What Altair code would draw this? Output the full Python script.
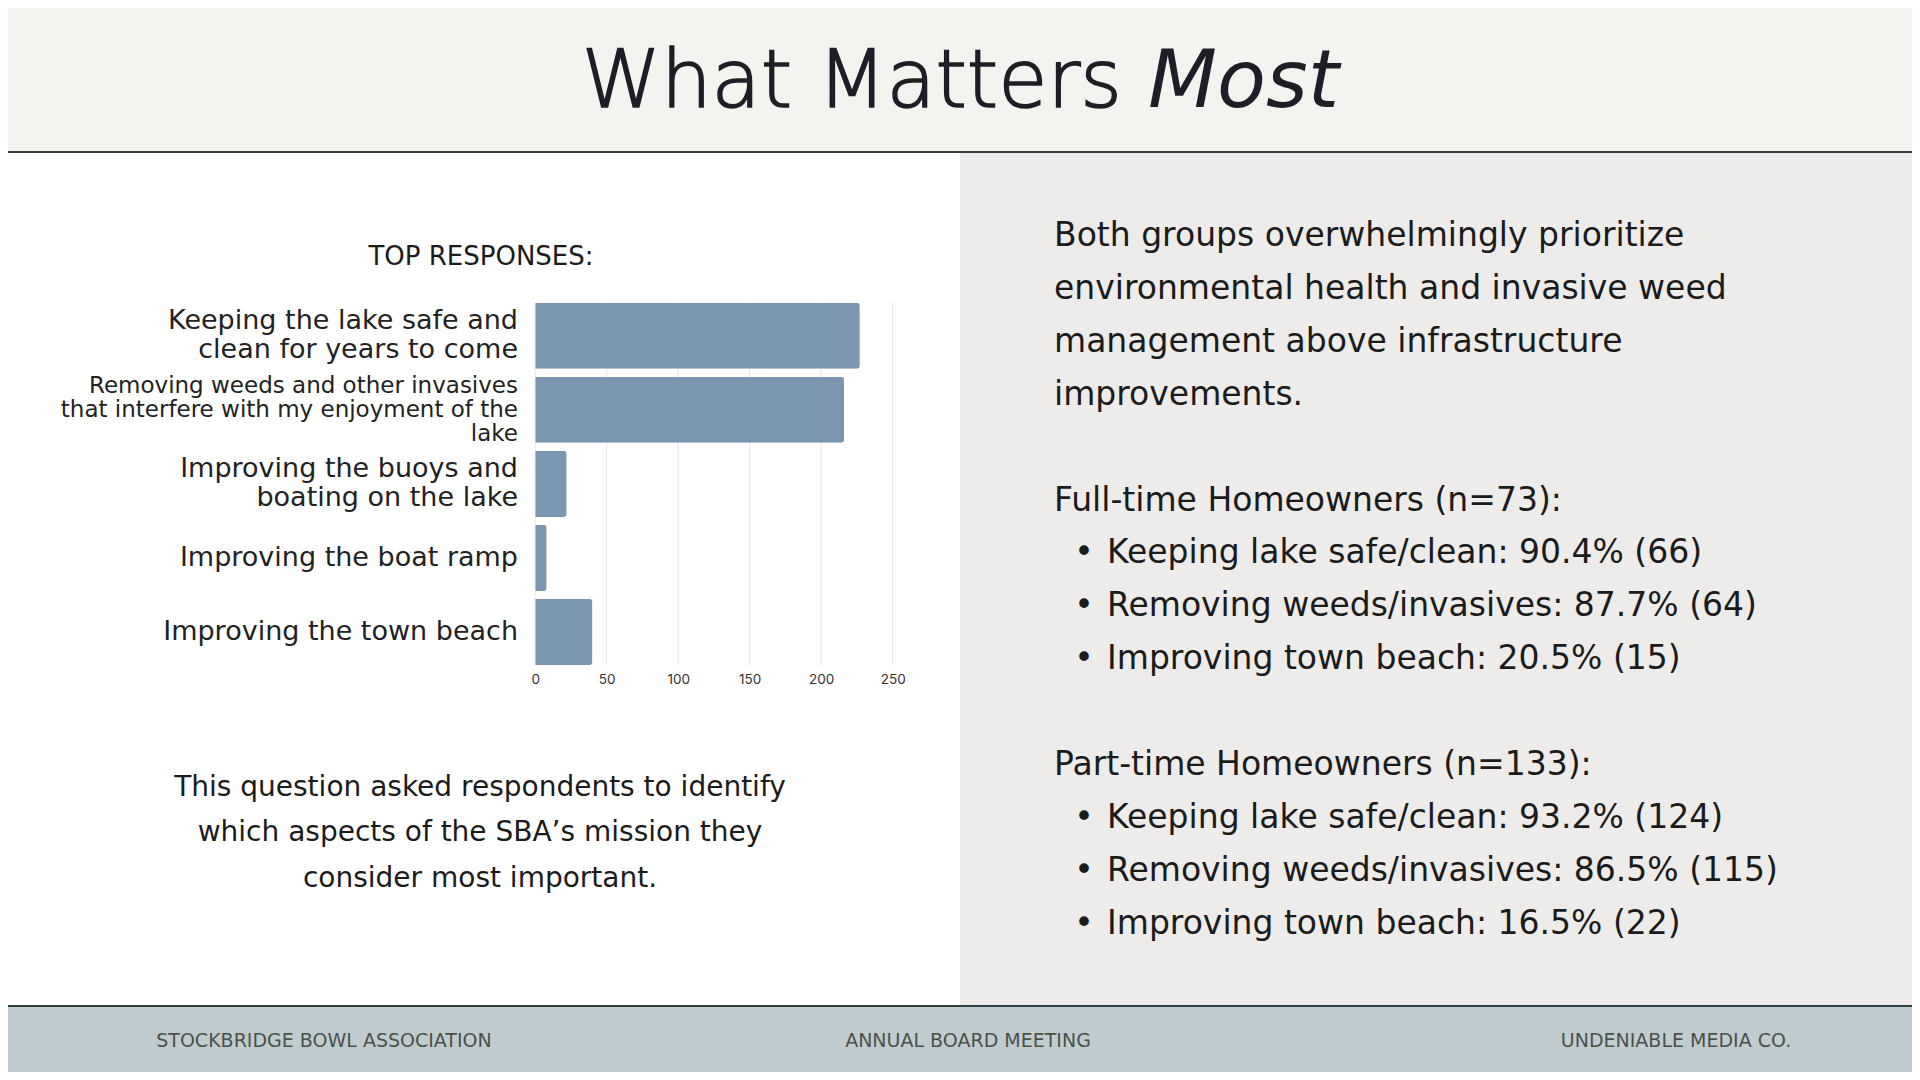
import altair as alt
import pandas as pd

# ---------------- data ----------------
categories = [
    "Keeping the lake safe and clean for years to come",
    "Removing weeds and other invasives that interfere with my enjoyment of the lake",
    "Improving the buoys and boating on the lake",
    "Improving the boat ramp",
    "Improving the town beach",
]
label_lines = [
    "Keeping the lake safe and\nclean for years to come",
    "Removing weeds and other invasives\nthat interfere with my enjoyment of the\nlake",
    "Improving the buoys and\nboating on the lake",
    "Improving the boat ramp",
    "Improving the town beach",
]
label_size = ["big", "small", "big", "big", "big"]
counts = [227, 216, 22, 8, 40]
x_ticks = [0, 50, 100, 150, 200, 250]

title_main = "What Matters"
title_italic = "Most"
chart_heading = "TOP RESPONSES:"
note_lines = [
    "This question asked respondents to identify",
    "which aspects of the SBA\u2019s mission they",
    "consider most important.",
]
summary_lines = [
    "Both groups overwhelmingly prioritize",
    "environmental health and invasive weed",
    "management above infrastructure",
    "improvements.",
]
full_time_header = "Full-time Homeowners (n=73):"
full_time_items = [
    "Keeping lake safe/clean: 90.4% (66)",
    "Removing weeds/invasives: 87.7% (64)",
    "Improving town beach: 20.5% (15)",
]
part_time_header = "Part-time Homeowners (n=133):"
part_time_items = [
    "Keeping lake safe/clean: 93.2% (124)",
    "Removing weeds/invasives: 86.5% (115)",
    "Improving town beach: 16.5% (22)",
]
footer_texts = ["STOCKBRIDGE BOWL ASSOCIATION", "ANNUAL BOARD MEETING", "UNDENIABLE MEDIA CO."]

# ---------------- layout helpers ----------------
W, H = 1904, 1064
OX, OY = 8, 8
FONT = "DejaVu Sans"
TEXT = "#1b1b1b"


def px(v):
    return v - OX


def py(v):
    return v - OY


one = pd.DataFrame({"k": [0]})


def rect(x1, y1, x2, y2, color):
    return alt.Chart(one).mark_rect(color=color).encode(
        x=alt.value(px(x1)), x2=alt.value(px(x2)),
        y=alt.value(py(y1)), y2=alt.value(py(y2)),
    )


def txt(text, x, y, size, align="left", color=TEXT, weight="normal", style="normal",
        font=FONT, stroke=None, stroke_width=0):
    kw = dict(align=align, baseline="alphabetic", fontSize=size, font=font,
              fontWeight=weight, fontStyle=style, color=color)
    if stroke is not None:
        kw.update(stroke=stroke, strokeWidth=stroke_width)
    return alt.Chart(pd.DataFrame({"t": [text]})).mark_text(**kw).encode(
        x=alt.value(px(x)), y=alt.value(py(y)), text="t:N")


# ---------------- bar chart ----------------
df = pd.DataFrame({
    "category": categories,
    "count": counts,
    "label_text": label_lines,
    "size": label_size,
    "nlines": [s.count("\n") + 1 for s in label_lines],
})
ticks_df = pd.DataFrame({"count": x_ticks})

x_scale = alt.Scale(domain=[0, 250], range=[px(535.2), px(892.7)], nice=False, zero=True)
y_scale = alt.Scale(range=[py(302.7), py(665)], paddingInner=0.108, paddingOuter=0)
x_axis = alt.Axis(values=x_ticks, grid=False, domain=False, ticks=False, title=None,
                  labelFont="Inter", labelFontSize=13.5, labelColor="#333333",
                  labelPadding=14, labelFlush=False, offset=658 - OY - H, format="d")

grid = alt.Chart(ticks_df).mark_rule(color="#e6e6e6", strokeWidth=1).encode(
    x=alt.X("count:Q", scale=x_scale, axis=x_axis),
    y=alt.value(py(302.7)), y2=alt.value(py(665)),
)

bars = alt.Chart(df).mark_bar(color="#7a96b0", cornerRadiusEnd=3).encode(
    x=alt.X("count:Q", scale=x_scale, axis=x_axis),
    y=alt.Y("category:N", sort=categories, scale=y_scale, axis=None),
)


def label_layer(size_key, n, font_size, line_height):
    return alt.Chart(df).transform_filter(
        (alt.datum.size == size_key) & (alt.datum.nlines == n)
    ).mark_text(
        align="right", baseline="middle", lineBreak="\n", font=FONT, fontSize=font_size,
        lineHeight=line_height, color="#222222", dy=-(n - 1) * line_height / 2,
    ).encode(
        x=alt.value(px(518)),
        y=alt.Y("category:N", sort=categories, scale=y_scale, axis=None),
        text="label_text:N",
    )


# ---------------- slide decoration ----------------
layers = [
    rect(0, 0, 1920, 152, "#f4f3f0"),
    rect(0, 151, 1920, 153, "#3c3c3c"),
    rect(960, 153, 1920, 1005, "#edecea"),
    rect(0, 1005, 1920, 1080, "#c1ccd1"),
    rect(0, 1005, 1920, 1007, "#2d3f3f"),
    rect(0, 1077, 1920, 1080, "#1f3434"),
    txt(title_main, 1122, 107, 80, align="right", color="#1e1e26", weight=300,
        stroke="#1e1e26", stroke_width=1.6),
    txt(title_italic, 1148, 107, 80, align="left", color="#1e1e26", style="italic"),
    txt(chart_heading, 481, 265, 26, align="center", color="#1b1b1b"),
    grid,
    bars,
    label_layer("big", 1, 27, 29),
    label_layer("big", 2, 27, 29),
    label_layer("small", 3, 23, 24),
]

for i, line in enumerate(note_lines):
    layers.append(txt(line, 480, 796 + 45.3 * i, 28, align="center"))

for i, line in enumerate(summary_lines):
    layers.append(txt(line, 1054, 245.7 + 53.1 * i, 33))

layers.append(txt(full_time_header, 1054, 510.7, 33))
for i, line in enumerate(full_time_items):
    yy = 563 + 53 * i
    layers.append(txt("\u2022", 1084, yy, 33, align="center"))
    layers.append(txt(line, 1107, yy, 33))

layers.append(txt(part_time_header, 1054, 775.2, 33))
for i, line in enumerate(part_time_items):
    yy = 828 + 53 * i
    layers.append(txt("\u2022", 1084, yy, 33, align="center"))
    layers.append(txt(line, 1107, yy, 33))

for t, cx in zip(footer_texts, [324, 968, 1676]):
    layers.append(txt(t, cx, 1047, 19, align="center", color="#4a5149"))

chart = alt.layer(*layers).properties(
    width=W, height=H,
    autosize=alt.AutoSizeParams(type="none"),
    padding=0,
    background="white",
).configure_view(stroke=None)

chart.save("out.html", embed_options={"renderer": "svg", "actions": False})
